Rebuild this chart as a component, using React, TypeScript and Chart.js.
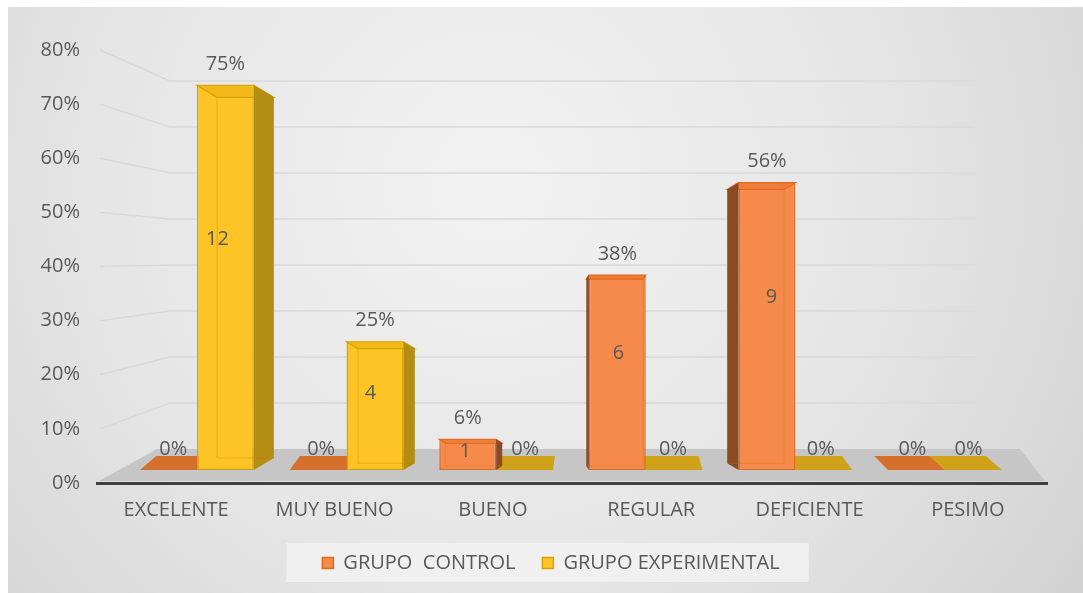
import React, { useEffect, useRef } from 'react';
import { Chart, registerables } from 'chart.js';

Chart.register(...registerables);

const categories = ['EXCELENTE', 'MUY BUENO', 'BUENO', 'REGULAR', 'DEFICIENTE', 'PESIMO'];
const seriesNames = ['GRUPO  CONTROL', 'GRUPO EXPERIMENTAL'];
const controlPct = [0, 0, 6, 38, 56, 0];
const experimentalPct = [75, 25, 0, 0, 0, 0];
const controlCount = [0, 0, 1, 6, 9, 0];
const experimentalCount = [12, 4, 0, 0, 0, 0];
const yTickValues = [0, 10, 20, 30, 40, 50, 60, 70, 80];

const FONT = "'Open Sans', sans-serif";
const TEXT = '#595959';

type Style = { face: string; border: string; side: string; top: string; flat: string };
const styles: Style[] = [
  { face: '#F68A4B', border: '#E0691C', side: '#8C4A22', top: '#EE7C3C', flat: '#D4702C' },
  { face: '#FEC426', border: '#D8A200', side: '#B38E12', top: '#F3B91A', flat: '#CFA21A' },
];

function poly(ctx: CanvasRenderingContext2D, pts: number[][]) {
  ctx.beginPath();
  ctx.moveTo(pts[0][0], pts[0][1]);
  for (let i = 1; i < pts.length; i++) ctx.lineTo(pts[i][0], pts[i][1]);
  ctx.closePath();
}

const deco = {
  id: 'deco',
  beforeDraw(chart: any) {
    const { ctx, width, height } = chart;
    ctx.save();
    const g = ctx.createRadialGradient(width * 0.45, height * 0.3, 0, width * 0.45, height * 0.3, width * 0.75);
    g.addColorStop(0, '#F2F2F2');
    g.addColorStop(0.5, '#E5E5E5');
    g.addColorStop(1, '#CDCDCD');
    ctx.fillStyle = g;
    ctx.fillRect(0, 0, width, height);
    const lg = chart.legend;
    if (lg && lg.legendHitBoxes && lg.legendHitBoxes.length) {
      const hb = lg.legendHitBoxes;
      const l = Math.min(...hb.map((b: any) => b.left)) - 36;
      const r = Math.max(...hb.map((b: any) => b.left + b.width)) + 29;
      const cy = hb[0].top + hb[0].height / 2;
      ctx.fillStyle = 'rgba(242,242,242,0.8)';
      ctx.fillRect(l, cy - 20, r - l, 39);
    }
    ctx.restore();
  },
  beforeDatasetsDraw(chart: any) {
    const { ctx, chartArea: ca, scales } = chart;
    const y = scales.y;
    const yw = scales.yw;
    const wallL = ca.left + 73;
    const wallR = ca.right - 72;
    ctx.save();
    const backY = yw.getPixelForValue(0);
    ctx.fillStyle = '#C6C6C6';
    poly(ctx, [
      [ca.left + 2, ca.bottom - 2],
      [ca.left + 60, backY],
      [ca.right - 27, backY],
      [ca.right - 2, ca.bottom - 2],
    ]);
    ctx.fill();
    ctx.strokeStyle = '#D9D9D9';
    ctx.lineWidth = 1.5;
    yTickValues.forEach((v) => {
      if (v === 0) return;
      const ly = y.getPixelForValue(v);
      const wy = yw.getPixelForValue(v);
      ctx.beginPath();
      ctx.moveTo(ca.left + 3, ly);
      ctx.lineTo(wallL, wy);
      ctx.lineTo(wallR, wy);
      ctx.stroke();
    });
    const cx = (ca.left + ca.right) / 2;
    chart.data.datasets.forEach((ds: any, di: number) => {
      const meta = chart.getDatasetMeta(di);
      meta.data.forEach((el: any, i: number) => {
        if (ds.data[i].y !== 0) return;
        const { x, base, width } = el.getProps(['x', 'base', 'width'], true);
        const sx = (cx - x) * 0.04;
        const L = x - width / 2;
        const R = x + width / 2;
        ctx.fillStyle = styles[di].flat;
        poly(ctx, [[L, base], [R, base], [R + sx, base - 14], [L + sx, base - 14]]);
        ctx.fill();
      });
    });
    ctx.restore();
  },
  afterDatasetsDraw(chart: any) {
    const { ctx, chartArea: ca, scales } = chart;
    const yb = scales.yb;
    const cx = (ca.left + ca.right) / 2;
    ctx.save();
    chart.data.datasets.forEach((ds: any, di: number) => {
      const meta = chart.getDatasetMeta(di);
      const st = styles[di];
      meta.data.forEach((el: any, i: number) => {
        const v = ds.data[i].y;
        const { x, y, base, width } = el.getProps(['x', 'y', 'base', 'width'], true);
        const L = x - width / 2;
        const R = x + width / 2;
        const dist = x - cx;
        if (v !== 0) {
          const dx = Math.abs(dist) * 0.058;
          const dy = Math.max(dx * 0.6, 4);
          const s = dist < 0 ? 1 : -1;
          const E = dist < 0 ? R : L;
          const O = dist < 0 ? L : R;
          ctx.fillStyle = st.top;
          poly(ctx, [[L, y], [R, y], [R + s * dx, y + dy], [L + s * dx, y + dy]]);
          ctx.fill();
          ctx.strokeStyle = st.border;
          ctx.lineWidth = 1.2;
          ctx.stroke();
          ctx.fillStyle = st.side;
          poly(ctx, [[E, y], [E + s * dx, y + dy], [E + s * dx, base - dy], [E, base]]);
          ctx.fill();
          ctx.strokeStyle = 'rgba(200,120,0,0.35)';
          ctx.lineWidth = 1;
          ctx.beginPath();
          ctx.moveTo(O + s * dx, y + dy);
          ctx.lineTo(O + s * dx, base - dy);
          ctx.lineTo(E + s * dx, base - dy);
          ctx.stroke();
        }
        ctx.font = `20px ${FONT}`;
        ctx.fillStyle = TEXT;
        ctx.textAlign = 'center';
        ctx.textBaseline = 'middle';
        const sx = v === 0 ? (cx - x) * 0.04 : 0;
        ctx.fillText(`${v}%`, x + sx * 0.3, yb.getPixelForValue(v) - 21);
        if (v !== 0) {
          ctx.fillText(String(ds.counts[i]), x + dist * 0.023, yb.getPixelForValue(v * 0.6));
        }
      });
    });
    ctx.restore();
  },
};

export default function App() {
  const ref = useRef<HTMLCanvasElement | null>(null);
  useEffect(() => {
    if (!ref.current) return;
    const chart = new Chart(ref.current, {
      type: 'bar',
      data: {
        labels: categories,
        datasets: [
          {
            label: seriesNames[0],
            data: controlPct.map((v, i) => ({ x: i, y: v })),
            counts: controlCount,
            backgroundColor: styles[0].face,
            borderColor: styles[0].border,
            borderWidth: 1.5,
            borderSkipped: false,
            xAxisID: 'xb',
            yAxisID: 'yb',
          } as any,
          {
            label: seriesNames[1],
            data: experimentalPct.map((v, i) => ({ x: i, y: v })),
            counts: experimentalCount,
            backgroundColor: styles[1].face,
            borderColor: styles[1].border,
            borderWidth: 1.5,
            borderSkipped: false,
            xAxisID: 'xb',
            yAxisID: 'yb',
          } as any,
        ],
      },
      options: {
        animation: false,
        responsive: false,
        layout: { padding: { top: 43, left: 0, right: -11, bottom: 10 } },
        datasets: { bar: { categoryPercentage: 0.76, barPercentage: 1.0 } },
        scales: {
          x: {
            type: 'category',
            labels: categories,
            min: categories[0],
            max: categories[categories.length - 1],
            offset: true,
            position: 'bottom',
            grid: { display: false, drawTicks: false },
            border: { display: true, color: '#404040', width: 3 },
            ticks: { color: TEXT, font: { family: FONT, size: 20 }, padding: 15, maxRotation: 0 },
            afterFit: (s: any) => { s.height = 43; },
          },
          xb: {
            type: 'linear',
            display: false,
            offset: false,
            grid: { offset: false },
            position: 'bottom',
            min: -0.668,
            max: 5.682,
            afterBuildTicks: (s: any) => { s.ticks = categories.map((_, i) => ({ value: i })); },
          },
          y: {
            type: 'linear',
            position: 'left',
            min: 0,
            max: 80,
            afterBuildTicks: (s: any) => { s.ticks = yTickValues.map((v) => ({ value: v })); },
            ticks: { color: TEXT, font: { family: FONT, size: 20 }, padding: 17, callback: (v: any) => `${v}%` },
            grid: { display: false, drawTicks: false },
            border: { display: false },
            afterFit: (s: any) => { s.width = 89; },
          },
          yb: { type: 'linear', display: false, position: 'left', min: -2.53, max: 81.87 },
          yw: {
            type: 'linear',
            display: true,
            position: 'right',
            min: -7.39,
            max: 86.74,
            ticks: { display: false },
            grid: { display: false, drawTicks: false },
            border: { display: false },
            afterFit: (s: any) => { s.width = 47; },
          },
        } as any,
        plugins: {
          legend: {
            position: 'bottom',
            labels: { color: TEXT, font: { family: FONT, size: 20 }, boxWidth: 11, boxHeight: 11, padding: 27 },
          },
          tooltip: { enabled: false },
          title: { display: false },
        },
      },
      plugins: [deco],
    } as any);
    return () => chart.destroy();
  }, []);
  return (
    <div style={{ position: 'fixed', left: 0, top: 0, width: 1083, height: 593, background: '#ffffff' }}>
      <canvas ref={ref} width={1075} height={586} style={{ position: 'absolute', left: 8, top: 7, width: 1075, height: 586 }} />
    </div>
  );
}
